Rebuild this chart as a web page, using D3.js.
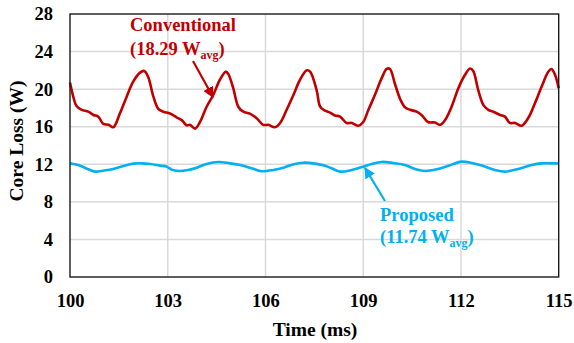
<!DOCTYPE html>
<html>
<head>
<meta charset="utf-8">
<script src="https://cdn.jsdelivr.net/npm/d3@7"></script>
<style>
  body { margin: 0; background: #fff; }
  svg { display: block; }
  text { font-family: "Liberation Serif", "Times New Roman", serif; font-weight: bold; }
</style>
</head>
<body>
<svg id="chart" width="574" height="343"></svg>
<script>
// Axis ticks
const timeTicks = [100, 103, 106, 109, 112, 115];
const lossTicks = [0, 4, 8, 12, 16, 20, 24, 28];

// Conventional core loss waveform (ms, W)
const convTime = [
  100.00, 100.10, 100.20, 100.36, 100.56, 100.72, 100.87, 101.02, 101.18, 101.33,
  101.53, 101.74, 101.94, 102.15, 102.28, 102.40, 102.56, 102.71, 102.86, 103.07,
  103.27, 103.43, 103.58, 103.68, 103.84, 103.99, 104.19, 104.40, 104.60, 104.78,
  104.86, 105.01, 105.17, 105.32, 105.52, 105.73, 105.93, 106.09, 106.29, 106.45,
  106.65, 106.86, 107.06, 107.27, 107.37, 107.57, 107.67, 107.78, 107.98, 108.13,
  108.29, 108.49, 108.65, 108.85, 109.00, 109.16, 109.36, 109.57, 109.72, 109.82,
  109.97, 110.13, 110.28, 110.44, 110.64, 110.79, 110.99, 111.20, 111.36, 111.51,
  111.72, 111.92, 112.12, 112.28, 112.38, 112.53, 112.69, 112.84, 112.99, 113.20,
  113.35, 113.50, 113.66, 113.86, 114.06, 114.27, 114.48, 114.68, 114.78, 114.89,
  115.00
];
const convLoss = [
  20.70, 19.20, 18.20, 17.80, 17.60, 17.25, 17.07, 16.30, 16.20, 15.94,
  17.40, 19.20, 20.80, 21.76, 21.94, 21.30, 19.20, 17.90, 17.60, 17.40,
  17.00, 16.70, 16.15, 16.20, 15.80, 16.50, 18.10, 19.40, 21.00, 21.86,
  21.60, 20.10, 18.10, 17.60, 17.40, 16.90, 16.20, 16.20, 15.94, 16.40,
  17.80, 19.40, 21.00, 22.00, 21.86, 19.90, 18.20, 17.80, 17.50, 17.20,
  17.07, 16.40, 16.40, 16.10, 16.50, 17.80, 19.40, 21.20, 22.15, 22.15,
  20.60, 18.98, 18.07, 17.80, 17.60, 17.25, 16.50, 16.45, 16.20, 16.70,
  18.20, 20.10, 21.50, 22.20, 21.90, 19.90, 18.30, 17.80, 17.60, 17.25,
  17.07, 16.40, 16.40, 16.10, 16.90, 18.50, 20.30, 21.86, 22.15, 21.50,
  20.10
];

// Proposed core loss waveform (ms, W)
const propTime = [
  100.00, 100.31, 100.56, 100.77, 101.02, 101.33, 101.64, 101.94, 102.20, 102.46,
  102.76, 102.97, 103.12, 103.33, 103.63, 103.89, 104.19, 104.55, 104.91, 105.22,
  105.52, 105.88, 106.24, 106.55, 106.86, 107.16, 107.52, 107.83, 108.03, 108.29,
  108.65, 109.00, 109.26, 109.57, 109.92, 110.28, 110.59, 110.90, 111.26, 111.62,
  112.02, 112.33, 112.64, 113.04, 113.35, 113.76, 114.17, 114.48, 114.78, 115.00
];
const propLoss = [
  12.10, 11.85, 11.47, 11.22, 11.32, 11.50, 11.82, 12.07, 12.10, 12.03,
  11.86, 11.75, 11.43, 11.29, 11.40, 11.64, 12.03, 12.25, 12.10, 11.93,
  11.64, 11.26, 11.40, 11.64, 12.00, 12.17, 12.07, 11.85, 11.57, 11.22,
  11.40, 11.75, 12.03, 12.25, 12.14, 11.93, 11.50, 11.29, 11.47, 11.85,
  12.28, 12.14, 11.86, 11.40, 11.22, 11.50, 11.93, 12.10, 12.10, 12.10
];

const redColor = "#C00000";
const blueColor = "#00B0F0";

const svg = d3.select("#chart");
const plot = { left: 70, right: 558.7, top: 14, bottom: 277 };

const x = d3.scaleLinear().domain([100, 115]).range([plot.left, plot.right]);
const y = d3.scaleLinear().domain([0, 28]).range([plot.bottom, plot.top]);

// Gridlines
const grid = svg.append("g").attr("stroke", "#d9d9d9").attr("stroke-width", 1.5);
grid.selectAll("line.h").data(lossTicks.slice(1, -1)).join("line")
  .attr("x1", plot.left).attr("x2", plot.right)
  .attr("y1", d => y(d)).attr("y2", d => y(d));
grid.selectAll("line.v").data(timeTicks.slice(1, -1)).join("line")
  .attr("y1", plot.top).attr("y2", plot.bottom)
  .attr("x1", d => x(d)).attr("x2", d => x(d));

// Axes (labels only; the frame is drawn separately)
const xAxis = svg.append("g")
  .attr("transform", `translate(0,${plot.bottom})`)
  .call(d3.axisBottom(x).tickValues(timeTicks).tickSize(0).tickPadding(17));
const yAxis = svg.append("g")
  .attr("transform", `translate(${plot.left},0)`)
  .call(d3.axisLeft(y).tickValues(lossTicks).tickSize(0).tickPadding(17));
[xAxis, yAxis].forEach(g => {
  g.select(".domain").remove();
  g.selectAll("text")
    .attr("fill", "#000")
    .style("font-size", "18.5px")
    .style("font-family", "'Liberation Serif', 'Times New Roman', serif")
    .style("font-weight", "bold");
});

// Curves
const line = d3.line()
  .x(d => x(d[0]))
  .y(d => y(d[1]))
  .curve(d3.curveCatmullRom.alpha(0.5));

svg.append("path")
  .datum(d3.zip(propTime, propLoss))
  .attr("fill", "none")
  .attr("stroke", blueColor)
  .attr("stroke-width", 2.6)
  .attr("stroke-linejoin", "round")
  .attr("d", line);

svg.append("path")
  .datum(d3.zip(convTime, convLoss))
  .attr("fill", "none")
  .attr("stroke", redColor)
  .attr("stroke-width", 2.6)
  .attr("stroke-linejoin", "round")
  .attr("d", line);

// Plot frame
svg.append("rect")
  .attr("x", plot.left).attr("y", plot.top)
  .attr("width", plot.right - plot.left)
  .attr("height", plot.bottom - plot.top)
  .attr("fill", "none")
  .attr("stroke", "#1a1a1a")
  .attr("stroke-width", 1.4);

// Axis titles
svg.append("text")
  .attr("x", 315).attr("y", 336)
  .attr("text-anchor", "middle")
  .style("font-size", "19.5px")
  .text("Time (ms)");
svg.append("text")
  .attr("transform", "translate(23,141) rotate(-90)")
  .attr("text-anchor", "middle")
  .style("font-size", "19.5px")
  .text("Core Loss (W)");

// Arrowheads
const defs = svg.append("defs");
[["arrowRed", redColor], ["arrowBlue", blueColor]].forEach(([id, c]) => {
  defs.append("marker")
    .attr("id", id)
    .attr("viewBox", "0 0 10 10")
    .attr("refX", 9).attr("refY", 5)
    .attr("markerUnits", "userSpaceOnUse")
    .attr("markerWidth", 11).attr("markerHeight", 11)
    .attr("orient", "auto")
    .append("path")
    .attr("d", "M0,0 L10,5 L0,10 z")
    .attr("fill", c);
});

// Annotations
function annotate(lines, color, x0, y0, lineGap, arrow, markerId) {
  const t = svg.append("text").attr("fill", color).style("font-size", "18.5px");
  t.append("tspan").attr("x", x0).attr("y", y0).text(lines[0]);
  t.append("tspan").attr("x", x0).attr("y", y0 + lineGap).text(lines[1]);
  t.append("tspan").attr("dy", 4).style("font-size", "12px").text("avg");
  t.append("tspan").attr("dy", -4).text(")");
  svg.append("line")
    .attr("x1", arrow[0]).attr("y1", arrow[1])
    .attr("x2", arrow[2]).attr("y2", arrow[3])
    .attr("stroke", color).attr("stroke-width", 2.2)
    .attr("marker-end", `url(#${markerId})`);
}

annotate(["Conventional", "(18.29 W"], redColor, 130, 31, 24, [193, 61, 213, 97], "arrowRed");
annotate(["Proposed", "(11.74 W"], blueColor, 380, 221, 22, [385, 201, 365, 168], "arrowBlue");
</script>
</body>
</html>
